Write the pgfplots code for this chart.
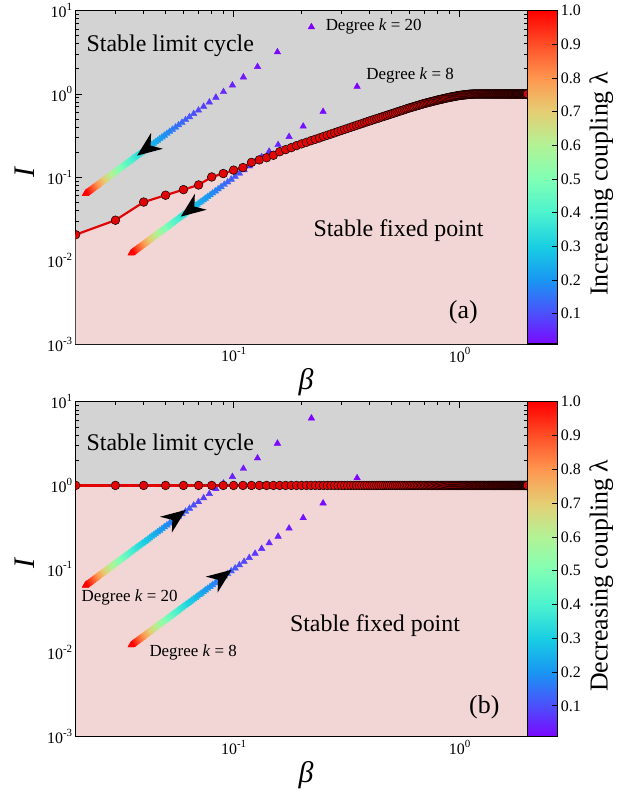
\documentclass[border=0pt]{standalone}
\usepackage{fontspec}
\setmainfont{Liberation Serif}
\usepackage{pgfplots}
\usepackage{pgfplotstable}
\pgfplotsset{compat=1.18}

\definecolor{graybg}{RGB}{211,211,211}
\definecolor{pinkbg}{RGB}{242,213,213}
\definecolor{cred}{RGB}{225,5,5}
\newcommand{\myex}[1]{\raisebox{0.45em}{\fontsize{11}{11}\selectfont #1}}

\pgfdeclareverticalshading{rbshade}{100bp}{rgb(0bp)=(0.5,0,1); rgb(25bp)=(0.5,0,1); rgb(30bp)=(0.3,0.309,0.988); rgb(35bp)=(0.1,0.588,0.951); rgb(40bp)=(0.1,0.809,0.891); rgb(45bp)=(0.3,0.951,0.809); rgb(50bp)=(0.5,1,0.707); rgb(55bp)=(0.7,0.951,0.588); rgb(60bp)=(0.9,0.809,0.454); rgb(65bp)=(1,0.588,0.309); rgb(70bp)=(1,0.309,0.156); rgb(75bp)=(1,0,0); rgb(100bp)=(1,0,0)}

\pgfplotstableread{
b Ia Ib
0.02 0.0205 1
0.03 0.0306 1
0.04 0.0505 1
0.05 0.0610 1
0.06 0.0712 1
0.07 0.0810 1
0.08 0.1010 1
0.09 0.1110 1
0.10 0.1220 1
0.11 0.1310 1
0.12 0.1510 1
0.13 0.1620 1
0.14 0.1720 1
0.15 0.1840 1
0.16 0.2030 1
0.17 0.2150 1
0.18 0.2270 1
0.19 0.2400 1
0.20 0.252 1
0.21 0.263 1
0.22 0.275 1
0.23 0.286 1
0.24 0.297 1
0.25 0.309 1
0.26 0.320 1
0.27 0.331 1
0.28 0.342 1
0.29 0.354 1
0.30 0.365 1
0.31 0.376 1
0.32 0.387 1
0.33 0.398 1
0.34 0.409 1
0.35 0.420 1
0.36 0.431 1
0.37 0.442 1
0.38 0.453 1
0.39 0.464 1
0.40 0.475 1
0.41 0.485 1
0.42 0.496 1
0.43 0.506 1
0.44 0.516 1
0.45 0.527 1
0.46 0.537 1
0.47 0.547 1
0.48 0.557 1
0.49 0.568 1
0.50 0.578 1
0.51 0.588 1
0.52 0.598 1
0.53 0.609 1
0.54 0.619 1
0.55 0.629 1
0.56 0.639 1
0.57 0.649 1
0.58 0.660 1
0.59 0.670 1
0.60 0.680 1
0.61 0.689 1
0.62 0.698 1
0.63 0.707 1
0.64 0.716 1
0.65 0.725 1
0.66 0.734 1
0.67 0.743 1
0.68 0.752 1
0.69 0.761 1
0.70 0.770 1
0.71 0.778 1
0.72 0.785 1
0.73 0.793 1
0.74 0.800 1
0.75 0.808 1
0.76 0.815 1
0.77 0.823 1
0.78 0.830 1
0.79 0.838 1
0.80 0.845 1
0.81 0.852 1
0.82 0.858 1
0.83 0.865 1
0.84 0.871 1
0.85 0.878 1
0.86 0.884 1
0.87 0.891 1
0.88 0.897 1
0.89 0.904 1
0.90 0.910 1
0.91 0.915 1
0.92 0.920 1
0.93 0.925 1
0.94 0.930 1
0.95 0.935 1
0.96 0.940 1
0.97 0.945 1
0.98 0.950 1
0.99 0.955 1
1.00 0.960 1
1.01 0.963 1
1.02 0.966 1
1.03 0.969 1
1.04 0.972 1
1.05 0.975 1
1.06 0.978 1
1.07 0.981 1
1.08 0.984 1
1.09 0.987 1
1.10 0.990 1
1.11 0.992 1
1.12 0.994 1
1.13 0.995 1
1.14 0.996 1
1.15 0.997 1
1.16 0.998 1
1.17 0.999 1
1.18 0.999 1
1.19 1 1
1.20 1 1
1.21 1 1
1.22 1 1
1.23 1 1
1.24 1 1
1.25 1 1
1.26 1 1
1.27 1 1
1.28 1 1
1.29 1 1
1.30 1 1
1.31 1 1
1.32 1 1
1.33 1 1
1.34 1 1
1.35 1 1
1.36 1 1
1.37 1 1
1.38 1 1
1.39 1 1
1.40 1 1
1.41 1 1
1.42 1 1
1.43 1 1
1.44 1 1
1.45 1 1
1.46 1 1
1.47 1 1
1.48 1 1
1.49 1 1
1.50 1 1
1.51 1 1
1.52 1 1
1.53 1 1
1.54 1 1
1.55 1 1
1.56 1 1
1.57 1 1
1.58 1 1
1.59 1 1
1.60 1 1
1.61 1 1
1.62 1 1
1.63 1 1
1.64 1 1
1.65 1 1
1.66 1 1
1.67 1 1
1.68 1 1
1.69 1 1
1.70 1 1
1.71 1 1
1.72 1 1
1.73 1 1
1.74 1 1
1.75 1 1
1.76 1 1
1.77 1 1
1.78 1 1
1.79 1 1
1.80 1 1
1.81 1 1
1.82 1 1
1.83 1 1
1.84 1 1
1.85 1 1
1.86 1 1
1.87 1 1
1.88 1 1
1.89 1 1
1.90 1 1
1.91 1 1
1.92 1 1
1.93 1 1
1.94 1 1
1.95 1 1
1.96 1 1
1.97 1 1
1.98 1 1
1.99 1 1
2.00 1 1
}\curvedata

\pgfplotstableread{
lam b20 I20 b8 I8
0.01 0.2210 6.360 0.3520 1.2270
0.02 0.1563 3.180 0.2489 0.6135
0.03 0.1276 2.120 0.2032 0.4090
0.04 0.1105 1.590 0.1760 0.3068
0.05 0.0988 1.272 0.1574 0.2454
0.06 0.0902 1.060 0.1437 0.2045
0.07 0.0835 0.9086 0.1331 0.1753
0.08 0.0781 0.7950 0.1245 0.1534
0.09 0.0737 0.7067 0.1173 0.1363
0.10 0.0699 0.6360 0.1113 0.1227
0.11 0.0666 0.5782 0.1061 0.1115
0.12 0.0638 0.5300 0.1016 0.1023
0.13 0.0613 0.4892 0.0976 0.0944
0.14 0.0591 0.4543 0.0941 0.0876
0.15 0.0571 0.4240 0.0909 0.0818
0.16 0.0553 0.3975 0.0880 0.0767
0.17 0.0536 0.3741 0.0854 0.0722
0.18 0.0521 0.3533 0.0830 0.0682
0.19 0.0507 0.3347 0.0807 0.0646
0.20 0.0494 0.3180 0.0787 0.0614
0.21 0.0482 0.3029 0.0768 0.0584
0.22 0.0471 0.2891 0.0750 0.0558
0.23 0.0461 0.2765 0.0734 0.0533
0.24 0.0451 0.2650 0.0718 0.0511
0.25 0.0442 0.2544 0.0704 0.0491
0.26 0.0433 0.2446 0.0690 0.0472
0.27 0.0425 0.2356 0.0678 0.0454
0.28 0.0418 0.2271 0.0665 0.0438
0.29 0.0410 0.2193 0.0654 0.0423
0.30 0.0404 0.2120 0.0643 0.0409
0.31 0.0397 0.2052 0.0632 0.0396
0.32 0.0391 0.1988 0.0622 0.0383
0.33 0.0385 0.1927 0.0613 0.0372
0.34 0.0379 0.1871 0.0604 0.0361
0.35 0.0373 0.1817 0.0595 0.0351
0.36 0.0368 0.1767 0.0587 0.0341
0.37 0.0363 0.1719 0.0579 0.0332
0.38 0.0358 0.1674 0.0571 0.0323
0.39 0.0354 0.1631 0.0564 0.0315
0.40 0.0349 0.1590 0.0557 0.0307
0.41 0.0345 0.1551 0.0550 0.0299
0.42 0.0341 0.1514 0.0543 0.0292
0.43 0.0337 0.1479 0.0537 0.0285
0.44 0.0333 0.1445 0.0531 0.0279
0.45 0.0330 0.1413 0.0525 0.0273
0.46 0.0326 0.1383 0.0519 0.0267
0.47 0.0322 0.1353 0.0514 0.0261
0.48 0.0319 0.1325 0.0508 0.0256
0.49 0.0316 0.1298 0.0503 0.0250
0.50 0.0313 0.1272 0.0498 0.0245
0.51 0.0309 0.1247 0.0493 0.0241
0.52 0.0307 0.1223 0.0488 0.0236
0.53 0.0304 0.1200 0.0484 0.0232
0.54 0.0301 0.1178 0.0479 0.0227
0.55 0.0298 0.1156 0.0475 0.0223
0.56 0.0295 0.1136 0.0470 0.0219
0.57 0.0293 0.1116 0.0466 0.0215
0.58 0.0290 0.1097 0.0462 0.0212
0.59 0.0288 0.1078 0.0458 0.0208
0.60 0.0285 0.1060 0.0454 0.0205
0.61 0.0283 0.1043 0.0451 0.0201
0.62 0.0281 0.1026 0.0447 0.0198
0.63 0.0278 0.1010 0.0444 0.0195
0.64 0.0276 0.0994 0.0440 0.0192
0.65 0.0274 0.0978 0.0436 0.0189
0.66 0.0272 0.0964 0.0433 0.0186
0.67 0.0270 0.0949 0.0430 0.0183
0.68 0.0268 0.0935 0.0427 0.0180
0.69 0.0266 0.0922 0.0424 0.0178
0.70 0.0264 0.0909 0.0421 0.0175
0.71 0.0262 0.0896 0.0418 0.0173
0.72 0.0261 0.0883 0.0415 0.0170
0.73 0.0259 0.0871 0.0412 0.0168
0.74 0.0257 0.0859 0.0409 0.0166
0.75 0.0255 0.0848 0.0407 0.0164
0.76 0.0253 0.0837 0.0404 0.0161
0.77 0.0252 0.0826 0.0401 0.0159
0.78 0.0250 0.0815 0.0398 0.0157
0.79 0.0249 0.0805 0.0396 0.0155
0.80 0.0247 0.0795 0.0394 0.0153
0.81 0.0246 0.0785 0.0391 0.0151
0.82 0.0244 0.0776 0.0389 0.0150
0.83 0.0243 0.0766 0.0386 0.0148
0.84 0.0241 0.0757 0.0384 0.0146
0.85 0.0240 0.0748 0.0382 0.0144
0.86 0.0238 0.0740 0.0379 0.0143
0.87 0.0237 0.0731 0.0377 0.0141
0.88 0.0236 0.0723 0.0375 0.0139
0.89 0.0234 0.0715 0.0373 0.0138
0.90 0.0233 0.0707 0.0371 0.0136
0.91 0.0232 0.0699 0.0369 0.0135
0.92 0.0231 0.0691 0.0367 0.0133
0.93 0.0229 0.0684 0.0365 0.0132
0.94 0.0228 0.0677 0.0363 0.0131
0.95 0.0227 0.0669 0.0361 0.0129
0.96 0.0226 0.0663 0.0359 0.0128
0.97 0.0224 0.0656 0.0357 0.0126
0.98 0.0223 0.0649 0.0356 0.0125
0.99 0.0222 0.0642 0.0354 0.0124
1.00 0.0221 0.0636 0.0352 0.0123
}\tridata

\pgfplotsset{
  colormap={rb}{rgb=(0.5,0,1) rgb=(0.3,0.309,0.988) rgb=(0.1,0.588,0.951) rgb=(0.1,0.809,0.891) rgb=(0.3,0.951,0.809) rgb=(0.5,1,0.707) rgb=(0.7,0.951,0.588) rgb=(0.9,0.809,0.454) rgb=(1,0.588,0.309) rgb=(1,0.309,0.156) rgb=(1,0,0)},
}
\tikzset{
  mytxt/.style={anchor=west, inner sep=0pt, font=\fontsize{24}{24}\selectfont},
  mydeg/.style={anchor=west, inner sep=0pt, font=\fontsize{17}{17}\selectfont},
}

\begin{document}
\begin{tikzpicture}
\path (-76pt,-60pt) rectangle (539pt,736pt);

% ---------- panel (a)
\begin{axis}[at={(0pt,394pt)}, anchor=south west, height=335pt,
    scale only axis, width=454pt,
    xmode=log, ymode=log, xmin=0.02, xmax=2, ymin=0.001, ymax=10,
    axis background/.style={fill=graybg},
    clip marker paths=true,
    xtick={0.1,1}, xticklabels={10\myex{-1},10\myex{0}},
    minor xtick={0.03,0.04,0.05,0.06,0.07,0.08,0.09,0.2,0.3,0.4,0.5,0.6,0.7,0.8,0.9,2},
    ytick={0.001,0.01,0.1,1,10}, yticklabels={10\myex{-3},10\myex{-2},10\myex{-1},10\myex{0},10\myex{1}},
    minor ytick={0.002,0.003,0.004,0.005,0.006,0.007,0.008,0.009,0.02,0.03,0.04,0.05,0.06,0.07,0.08,0.09,0.2,0.3,0.4,0.5,0.6,0.7,0.8,0.9,2,3,4,5,6,7,8,9},
    tick align=inside,
    major tick length=6pt, minor tick length=3.5pt,
    every tick/.style={black, line width=0.8pt},
    axis line style={line width=1.2pt},
    tick label style={font=\fontsize{16}{16}\selectfont},
    xlabel={\textit{β}}, ylabel={\textit{I}},
    label style={font=\fontsize{30}{30}\selectfont},
    xlabel style={at={(axis description cs:0.51,-0.113)}, anchor=center},
    ylabel style={at={(axis description cs:-0.112,0.515)}, anchor=center},
    point meta min=0.01, point meta max=1]
\addplot[fill=pinkbg, draw=none, forget plot] table[x=b, y=Ia]{\curvedata} -- (axis cs:2,0.001) -- (axis cs:0.02,0.001) -- cycle;
\addplot[scatter, only marks, mark=triangle*, mark size=3.8pt, scatter src=explicit,
    scatter/use mapped color={draw=mapped color, fill=mapped color}] table[x=b20, y=I20, meta=lam]{\tridata};
\addplot[scatter, only marks, mark=triangle*, mark size=3.8pt, scatter src=explicit,
    scatter/use mapped color={draw=mapped color, fill=mapped color}] table[x=b8, y=I8, meta=lam]{\tridata};
\addplot[cred, line width=2.2pt, mark=*, mark size=4.4pt, mark options={fill=cred, draw=black, line width=0.5pt}] table[x=b, y=Ia]{\curvedata};
\fill[black] (axis cs:0.0374,0.182) -- +(14.1pt,22.9pt) -- +(13.6pt,10.1pt) -- +(26.0pt,6.9pt) -- cycle;
\fill[black] (axis cs:0.0584,0.0338) -- +(14.1pt,22.9pt) -- +(13.6pt,10.1pt) -- +(26.0pt,6.9pt) -- cycle;
\node[mytxt] at (rel axis cs:0.024,0.893) {Stable limit cycle};
\node[mytxt] at (rel axis cs:0.526,0.340) {Stable fixed point};
\node[anchor=east, inner sep=0pt, font=\fontsize{26}{26}\selectfont] at (rel axis cs:0.890,0.096) {(a)};
\node[mydeg] at (rel axis cs:0.553,0.952) {Degree \textit{k} = 20};
\node[mydeg] at (rel axis cs:0.643,0.806) {Degree \textit{k} = 8};
\end{axis}
\begin{axis}[at={(454pt,394pt)}, anchor=south west, height=335pt,
    scale only axis, width=30pt,
    xmin=0, xmax=1, ymin=0.01, ymax=1,
    xtick=\empty,
    ytick={0.1,0.2,0.3,0.4,0.5,0.6,0.7,0.8,0.9,1.0},
    yticklabel pos=right, ytick pos=right,
    yticklabel style={/pgf/number format/.cd, fixed, fixed zerofill, precision=1, assume math mode=true, /tikz/.cd, font=\fontsize{16}{16}\selectfont},
    tick align=inside, major tick length=5pt,
    every tick/.style={black, line width=0.8pt},
    axis line style={line width=1.2pt},
    axis on top,
    ylabel={Increasing coupling λ},
    ylabel style={font=\fontsize{26}{26}\selectfont, at={(axis description cs:2.47,0.48)}, anchor=center}]
\fill[shading=rbshade] (axis cs:0,0) rectangle (axis cs:1,1);
\end{axis}

% ---------- panel (b)
\begin{axis}[at={(0pt,0pt)}, anchor=south west, height=336pt,
    scale only axis, width=454pt,
    xmode=log, ymode=log, xmin=0.02, xmax=2, ymin=0.001, ymax=10,
    axis background/.style={fill=graybg},
    clip marker paths=true,
    xtick={0.1,1}, xticklabels={10\myex{-1},10\myex{0}},
    minor xtick={0.03,0.04,0.05,0.06,0.07,0.08,0.09,0.2,0.3,0.4,0.5,0.6,0.7,0.8,0.9,2},
    ytick={0.001,0.01,0.1,1,10}, yticklabels={10\myex{-3},10\myex{-2},10\myex{-1},10\myex{0},10\myex{1}},
    minor ytick={0.002,0.003,0.004,0.005,0.006,0.007,0.008,0.009,0.02,0.03,0.04,0.05,0.06,0.07,0.08,0.09,0.2,0.3,0.4,0.5,0.6,0.7,0.8,0.9,2,3,4,5,6,7,8,9},
    tick align=inside,
    major tick length=6pt, minor tick length=3.5pt,
    every tick/.style={black, line width=0.8pt},
    axis line style={line width=1.2pt},
    tick label style={font=\fontsize{16}{16}\selectfont},
    xlabel={\textit{β}}, ylabel={\textit{I}},
    label style={font=\fontsize{30}{30}\selectfont},
    xlabel style={at={(axis description cs:0.51,-0.116)}, anchor=center},
    ylabel style={at={(axis description cs:-0.112,0.518)}, anchor=center},
    point meta min=0.01, point meta max=1]
\addplot[fill=pinkbg, draw=none, forget plot] coordinates {(0.02,0.001) (2,0.001) (2,1) (0.02,1)} -- cycle;
\addplot[scatter, only marks, mark=triangle*, mark size=3.8pt, scatter src=explicit,
    scatter/use mapped color={draw=mapped color, fill=mapped color}] table[x=b20, y=I20, meta=lam]{\tridata};
\addplot[scatter, only marks, mark=triangle*, mark size=3.8pt, scatter src=explicit,
    scatter/use mapped color={draw=mapped color, fill=mapped color}] table[x=b8, y=I8, meta=lam]{\tridata};
\addplot[cred, line width=2.2pt, mark=*, mark size=4.4pt, mark options={fill=cred, draw=black, line width=0.5pt}] table[x=b, y=Ib]{\curvedata};
\fill[black] (axis cs:0.0615,0.51) -- +(-14.1pt,-22.9pt) -- +(-13.6pt,-10.1pt) -- +(-26.0pt,-6.9pt) -- cycle;
\fill[black] (axis cs:0.098,0.098) -- +(-14.1pt,-22.9pt) -- +(-13.6pt,-10.1pt) -- +(-26.0pt,-6.9pt) -- cycle;
\node[mytxt] at (rel axis cs:0.024,0.872) {Stable limit cycle};
\node[mytxt] at (rel axis cs:0.474,0.330) {Stable fixed point};
\node[anchor=east, inner sep=0pt, font=\fontsize{26}{26}\selectfont] at (rel axis cs:0.938,0.086) {(b)};
\node[mydeg] at (rel axis cs:0.013,0.414) {Degree \textit{k} = 20};
\node[mydeg] at (rel axis cs:0.163,0.250) {Degree \textit{k} = 8};
\end{axis}
\begin{axis}[at={(454pt,0pt)}, anchor=south west, height=336pt,
    scale only axis, width=30pt,
    xmin=0, xmax=1, ymin=0.01, ymax=1,
    xtick=\empty,
    ytick={0.1,0.2,0.3,0.4,0.5,0.6,0.7,0.8,0.9,1.0},
    yticklabel pos=right, ytick pos=right,
    yticklabel style={/pgf/number format/.cd, fixed, fixed zerofill, precision=1, assume math mode=true, /tikz/.cd, font=\fontsize{16}{16}\selectfont},
    tick align=inside, major tick length=5pt,
    every tick/.style={black, line width=0.8pt},
    axis line style={line width=1.2pt},
    axis on top,
    ylabel={Decreasing coupling λ},
    ylabel style={font=\fontsize{26}{26}\selectfont, at={(axis description cs:2.47,0.48)}, anchor=center}]
\fill[shading=rbshade] (axis cs:0,0) rectangle (axis cs:1,1);
\end{axis}
\end{tikzpicture}
\end{document}
